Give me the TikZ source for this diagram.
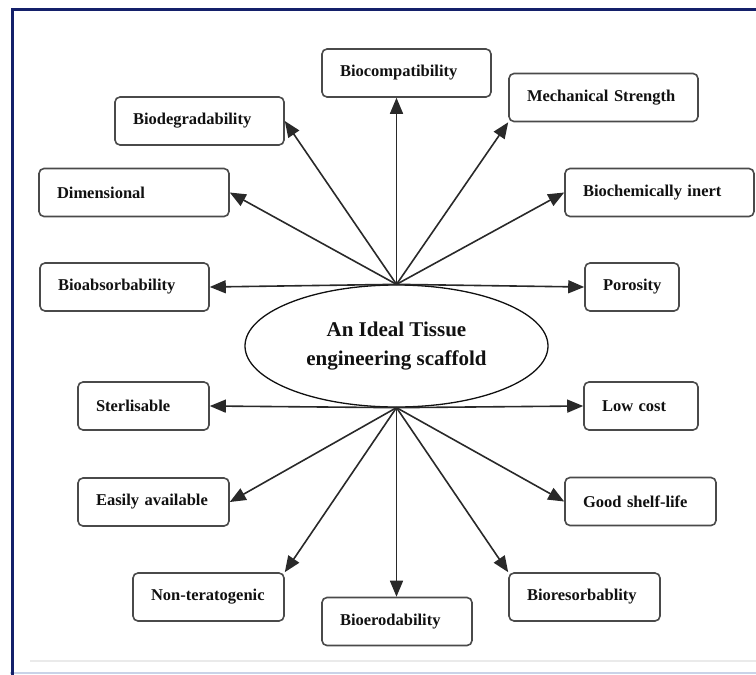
\documentclass[tikz,border=0pt]{standalone}
\usepackage{fontspec}
\setmainfont{Liberation Serif}
\usepackage{xcolor}
\usepackage{tikz}
\usetikzlibrary{arrows.meta,shapes.geometric}
\definecolor{ink}{HTML}{111111}
\definecolor{edge}{HTML}{4A4A4A}
\definecolor{navy}{HTML}{14206A}
\definecolor{paleblue}{HTML}{C9D3E8}
\definecolor{rule}{HTML}{EAEAEA}
\tikzset{
  frame/.style={draw=navy, line width=3pt},
  box/.style={draw=edge, line width=1.6pt, rounded corners=5pt, fill=white,
    text=ink, font=\fontsize{16.5}{19}\selectfont\bfseries,
    text width=#1, align=left, inner xsep=18pt, inner ysep=0pt, minimum height=48pt},
  hub/.style={draw=ink, line width=1.3pt, ellipse, inner sep=0pt,
    minimum width=303pt, minimum height=122pt, text=ink, align=center,
    font=\fontsize{21}{29}\selectfont\bfseries},
  arr/.style={draw=ink!90, line width=1.6pt, -{Triangle[length=16pt,width=13pt]}}
}

\begin{document}
\begin{tikzpicture}[x=1pt,y=-1pt]
  \useasboundingbox (0,0) rectangle (756,675);
  % page frame
  \draw[draw=paleblue, line width=2pt] (10,673) -- (756,673);
  \draw[draw=rule, line width=2pt] (30,661) -- (756,661);
  \draw[frame] (756,9) -- (12,9) -- (12,675);

  \node[hub] (ideal) at (396.5,346) {An Ideal Tissue\\engineering scaffold};

  % upper fan
  \node[box=133pt] (bcomp) at (406.5,73) {Biocompatibility};
  \node[box=133pt] (bdeg) at (199.5,121) {Biodegradability};
  \node[box=154pt] (dim) at (134,192.5) {Dimensional};
  \node[box=133pt] (babs) at (124.5,287) {Bioabsorbability};
  \node[box=153pt] (mech) at (603.5,97.5) {Mechanical Strength};
  \node[box=153pt] (binert) at (659.5,192.5) {Biochemically inert};
  \node[box=58pt] (poro) at (632,287) {Porosity};

  % lower fan
  \node[box=95pt] (ster) at (143.5,406) {Sterlisable};
  \node[box=115pt] (easy) at (153.5,502) {Easily available};
  \node[box=115pt] (nont) at (208.5,597) {Non-teratogenic};
  \node[box=114pt] (berod) at (397,621.5) {Bioerodability};
  \node[box=78pt] (lowc) at (641,406) {Low cost};
  \node[box=115pt] (shelf) at (640.5,501.5) {Good shelf-life};
  \node[box=115pt] (bres) at (584.5,597) {Bioresorbablity};

  \draw[arr] (ideal.north) -- (ideal.north |- bcomp.south);
  \draw[arr] (ideal.north) -- (bdeg.east);
  \draw[arr] (ideal.north) -- (dim.east);
  \draw[arr] (ideal.north) -- (babs.east);
  \draw[arr] (ideal.north) -- (mech.south west);
  \draw[arr] (ideal.north) -- (binert.west);
  \draw[arr] (ideal.north) -- (poro.west);

  \draw[arr] (ideal.south) -- (ster.east);
  \draw[arr] (ideal.south) -- (easy.east);
  \draw[arr] (ideal.south) -- (nont.north east);
  \draw[arr] (ideal.south) -- (ideal.south |- berod.north);
  \draw[arr] (ideal.south) -- (lowc.west);
  \draw[arr] (ideal.south) -- (shelf.west);
  \draw[arr] (ideal.south) -- (bres.north west);
\end{tikzpicture}
\end{document}
